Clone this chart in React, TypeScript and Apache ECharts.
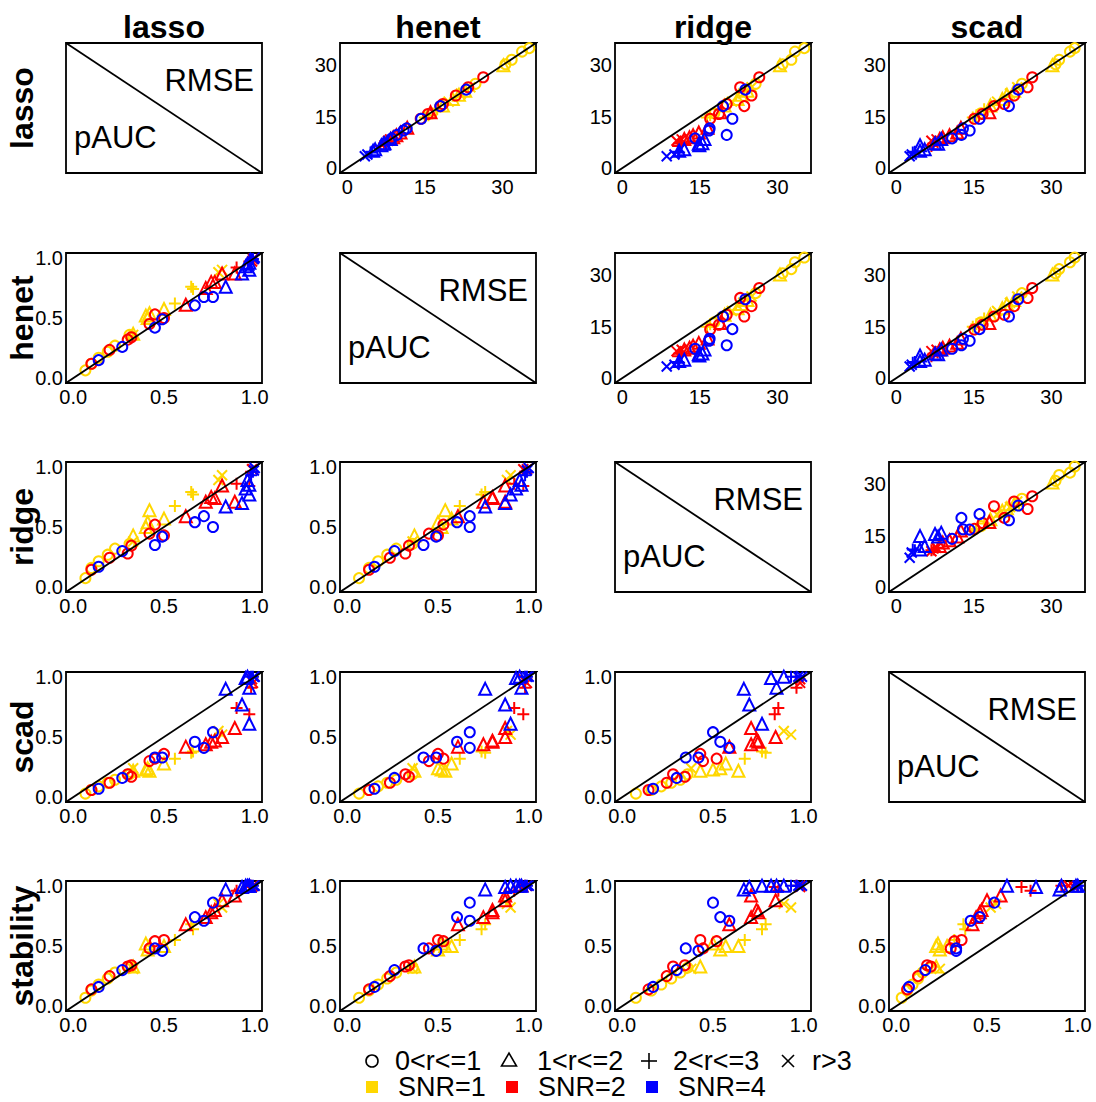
import React, { useEffect, useRef } from "react";
import * as echarts from "echarts";

// ---------- data ----------
const rowMethods = ["lasso", "henet", "ridge", "scad", "stability"];
const colMethods = ["lasso", "henet", "ridge", "scad"];
const shapeLabels = ["0<r<=1", "1<r<=2", "2<r<=3", "r>3"];
const snrLabels = ["SNR=1", "SNR=2", "SNR=4"];
const snrColors = ["#FFD700", "#FF0000", "#0000FF"];
const rmseTicks = [0, 15, 30];
const paucTicks = [0, 0.5, 1];

// scenario attributes: shape index (r class) and SNR index
const shape = [
  0, 0, 0, 0, 0, 0, 1, 1, 1, 1, 1, 2, 2, 2, 3, 3, 3,
  0, 0, 0, 0, 0, 0, 0, 1, 1, 1, 1, 1, 1, 2, 2, 2, 3, 3,
  0, 0, 0, 0, 0, 0, 0, 1, 1, 1, 1, 1, 1, 2, 2, 3, 3,
];
const snr = [
  0, 0, 0, 0, 0, 0, 0, 0, 0, 0, 0, 0, 0, 0, 0, 0, 0,
  1, 1, 1, 1, 1, 1, 1, 1, 1, 1, 1, 1, 1, 1, 1, 1, 1, 1,
  2, 2, 2, 2, 2, 2, 2, 2, 2, 2, 2, 2, 2, 2, 2, 2, 2,
];

// pAUC per method
const paucLasso = [
  0.067, 0.10, 0.14, 0.19, 0.23, 0.31, 0.33, 0.40, 0.41, 0.42, 0.50, 0.56, 0.65, 0.66, 0.80, 0.82, 0.33,
  0.10, 0.20, 0.30, 0.32, 0.42, 0.45, 0.50, 0.62, 0.73, 0.76, 0.78, 0.82, 0.89, 0.90, 0.97, 0.98, 0.99, 0.985,
  0.14, 0.27, 0.45, 0.49, 0.67, 0.72, 0.77, 0.84, 0.93, 0.97, 0.95, 0.97, 0.96, 0.98, 0.99, 0.995, 1.0,
];
const paucHenet = [
  0.065, 0.12, 0.17, 0.22, 0.27, 0.36, 0.37, 0.52, 0.50, 0.54, 0.575, 0.62, 0.76, 0.74, 0.88, 0.90, 0.36,
  0.12, 0.235, 0.32, 0.34, 0.45, 0.53, 0.50, 0.61, 0.75, 0.80, 0.80, 0.87, 0.87, 0.92, 0.97, 0.98, 0.99, 0.97,
  0.15, 0.26, 0.42, 0.49, 0.605, 0.675, 0.675, 0.76, 0.87, 0.90, 0.93, 0.96, 0.95, 0.98, 0.99, 0.99, 1.0,
];
const paucRidge = [
  0.075, 0.16, 0.215, 0.27, 0.32, 0.36, 0.43, 0.50, 0.54, 0.64, 0.57, 0.675, 0.79, 0.77, 0.89, 0.93, 0.38,
  0.145, 0.245, 0.28, 0.345, 0.445, 0.52, 0.43, 0.59, 0.71, 0.75, 0.74, 0.845, 0.71, 0.86, 0.84, 0.96, 0.98, 0.98,
  0.17, 0.30, 0.35, 0.42, 0.54, 0.59, 0.50, 0.67, 0.70, 0.77, 0.82, 0.85, 0.89, 0.93, 0.96, 0.97, 0.99,
];
const paucScad = [
  0.03, 0.06, 0.09, 0.12, 0.145, 0.19, 0.22, 0.23, 0.24, 0.22, 0.28, 0.32, 0.37, 0.38, 0.55, 0.52, 0.24,
  0.06, 0.12, 0.19, 0.17, 0.30, 0.32, 0.36, 0.42, 0.44, 0.46, 0.47, 0.50, 0.575, 0.74, 0.69, 0.91, 0.95, 0.98,
  0.07, 0.16, 0.33, 0.33, 0.46, 0.41, 0.54, 0.90, 0.77, 0.61, 0.99, 0.91, 1.0, 1.0, 1.0, 1.0, 1.0,
];
const paucStability = [
  0.07, 0.13, 0.18, 0.23, 0.28, 0.32, 0.33, 0.52, 0.47, 0.50, 0.50, 0.55, 0.68, 0.64, 0.85, 0.82, 0.31,
  0.14, 0.25, 0.33, 0.34, 0.48, 0.54, 0.55, 0.68, 0.74, 0.78, 0.80, 0.88, 0.92, 0.96, 0.99, 1.0, 1.0, 0.99,
  0.16, 0.30, 0.48, 0.46, 0.74, 0.71, 0.86, 0.97, 0.99, 1.0, 1.0, 1.0, 1.0, 1.0, 1.0, 1.0, 1.0,
];

// RMSE per method
const rmseLasso = [
  35.0, 34.0, 31.6, 30.3, 24.6, 16.0, 30.0, 22.6, 21.4, 20.2, 18.3, 17.2, 15.4, 14.8, 19.4, 23.6, 21.8,
  26.5, 23.6, 21.2, 18.7, 18.1, 15.8, 14.4, 16.3, 11.8, 10.4, 9.6, 9.0, 8.5, 7.6, 7.2, 6.5, 8.0, 8.4,
  22.9, 18.1, 14.4, 11.0, 9.7, 11.6, 8.7, 8.5, 7.3, 7.1, 6.7, 5.5, 5.1, 4.6, 4.8, 4.0, 3.5,
];
const rmseHenet = [
  35.2, 33.8, 31.8, 30.6, 24.8, 16.3, 30.2, 22.8, 21.6, 20.4, 18.5, 17.4, 15.7, 15.0, 19.6, 23.8, 22.0,
  26.3, 23.4, 21.0, 18.5, 18.0, 15.6, 14.2, 16.1, 11.6, 10.3, 9.5, 8.9, 8.4, 7.5, 7.1, 6.4, 7.9, 8.3,
  23.0, 18.0, 14.3, 10.9, 9.6, 11.5, 8.6, 8.4, 7.2, 7.0, 6.6, 5.4, 5.0, 4.5, 4.7, 3.9, 3.4,
];
const rmseRidge = [
  35.2, 33.4, 32.7, 31.0, 25.8, 17.8, 30.5, 24.2, 23.0, 22.3, 19.8, 18.6, 17.0, 16.4, 21.2, 25.0, 23.4,
  26.5, 22.8, 25.0, 20.2, 23.6, 18.7, 17.0, 19.0, 16.5, 14.8, 13.7, 13.0, 12.0, 11.5, 11.0, 10.8, 10.5, 11.5,
  23.8, 19.5, 21.3, 16.8, 20.2, 16.9, 14.1, 15.9, 15.5, 14.8, 14.9, 12.0, 11.0, 11.0, 10.8, 10.1, 8.6,
];
const rmseScad = [
  34.5, 33.6, 31.5, 30.8, 24.3, 16.4, 30.2, 22.8, 21.4, 20.5, 18.2, 17.0, 15.5, 14.8, 19.5, 23.4, 22.0,
  26.3, 25.4, 22.8, 20.9, 18.9, 16.7, 15.1, 18.0, 12.5, 11.8, 10.3, 9.0, 8.4, 8.0, 7.2, 6.8, 6.8, 7.8,
  23.6, 21.8, 16.1, 14.2, 12.6, 12.9, 10.8, 8.7, 7.5, 8.1, 4.6, 5.5, 4.6, 3.2, 3.6, 3.0, 2.6,
];

// ---------- layout ----------
const COL_X = [66, 340, 615, 889];
const ROW_Y = [43, 253, 462, 672, 881];
const PW = 196;
const PH = 130;
const FONT = "Liberation Sans, Arial, Helvetica, sans-serif";

const SYMBOLS = [
  "circle",
  "triangle",
  "path://M0,5L10,5M5,0L5,10",
  "path://M0,0L10,10M10,0L0,10",
];
const SYM_SIZE = [10, 12, 12, 10];

function buildOption() {
  const paucBy = [paucLasso, paucHenet, paucRidge, paucScad, paucStability];
  const rmseBy = [rmseLasso, rmseHenet, rmseRidge, rmseScad];
  const grids: any[] = [];
  const xAxes: any[] = [];
  const yAxes: any[] = [];
  const series: any[] = [];
  const graphics: any[] = [];

  rowMethods.forEach((_, i) => {
    colMethods.forEach((__, j) => {
      const left = COL_X[j];
      const top = ROW_Y[i];
      if (i === j) {
        graphics.push({
          type: "rect",
          shape: { x: left, y: top, width: PW, height: PH },
          style: { fill: "none", stroke: "#000", lineWidth: 1.8 },
        });
        graphics.push({
          type: "line",
          shape: { x1: left, y1: top, x2: left + PW, y2: top + PH },
          style: { stroke: "#000", lineWidth: 1.8 },
        });
        graphics.push({
          type: "text",
          x: left + PW - 8,
          y: top + 37,
          style: { text: "RMSE", fontSize: 31, fontFamily: FONT, fill: "#000", align: "right", verticalAlign: "middle" },
        });
        graphics.push({
          type: "text",
          x: left + 8,
          y: top + PH - 36,
          style: { text: "pAUC", fontSize: 31, fontFamily: FONT, fill: "#000", align: "left", verticalAlign: "middle" },
        });
        return;
      }
      const isRmse = i < j;
      const xs = isRmse ? rmseBy[j] : paucBy[j];
      const ys = isRmse ? rmseBy[i] : paucBy[i];
      const lo = isRmse ? -1.4 : -0.04;
      const hi = isRmse ? 36.5 : 1.04;
      const k = grids.length;
      grids.push({
        left, top, width: PW, height: PH,
        show: true, borderColor: "#000", borderWidth: 1.8, backgroundColor: "rgba(0,0,0,0)",
        containLabel: false, outerBoundsMode: "none",
      });
      const fmt = isRmse ? (v: number) => String(v) : (v: number) => v.toFixed(1);
      const common = {
        type: "value", gridIndex: k, min: lo, max: hi,
        axisLine: { show: false }, axisTick: { show: false }, splitLine: { show: false },
      };
      xAxes.push({
        ...common,
        axisLabel: { customValues: isRmse ? rmseTicks : paucTicks, formatter: fmt, fontSize: 20, color: "#000", fontFamily: FONT, margin: 4 },
      });
      yAxes.push({
        ...common,
        axisLabel: { customValues: isRmse ? rmseTicks : paucTicks, formatter: fmt, fontSize: 20, color: "#000", fontFamily: FONT, margin: 3 },
      });
      series.push({
        type: "scatter", xAxisIndex: k, yAxisIndex: k, silent: true,
        itemStyle: { opacity: 1 },
        data: xs.map((x, n) => ({
          value: [x, ys[n]],
          symbol: SYMBOLS[shape[n]],
          symbolSize: SYM_SIZE[shape[n]],
          itemStyle: { color: "rgba(0,0,0,0)", borderColor: snrColors[snr[n]], borderWidth: 2, opacity: 1 },
        })),
      });
      series.push({
        type: "line", xAxisIndex: k, yAxisIndex: k, silent: true, clip: true, z: 5,
        symbol: "none", data: [[lo - 1, lo - 1], [hi + 1, hi + 1]],
        lineStyle: { color: "#000", width: 1.8 },
      });
    });
  });

  // column titles
  colMethods.forEach((m, j) => {
    graphics.push({
      type: "text", x: COL_X[j] + PW / 2, y: 27,
      style: { text: m, fontSize: 32, fontWeight: "bold", fontFamily: FONT, fill: "#000", align: "center", verticalAlign: "middle" },
    });
  });
  // row titles
  rowMethods.forEach((m, i) => {
    graphics.push({
      type: "text", x: 22, y: ROW_Y[i] + PH / 2, rotation: Math.PI / 2, z: 10,
      style: { text: m, fontSize: 32, fontWeight: "bold", fontFamily: FONT, fill: "#000", align: "center", verticalAlign: "middle" },
    });
  });

  // legend row 1 (shapes)
  const l1y = 1061;
  const shapeX = [372, 509, 649, 788];
  const shapeTextX = [395, 537, 673, 812];
  graphics.push({ type: "circle", shape: { cx: shapeX[0], cy: l1y, r: 6 }, style: { fill: "none", stroke: "#000", lineWidth: 1.6 } });
  graphics.push({
    type: "polygon",
    shape: { points: [[shapeX[1] - 7.5, l1y + 5], [shapeX[1] + 7.5, l1y + 5], [shapeX[1], l1y - 8]] },
    style: { fill: "none", stroke: "#000", lineWidth: 1.6 },
  });
  graphics.push({ type: "line", shape: { x1: shapeX[2] - 8, y1: l1y, x2: shapeX[2] + 8, y2: l1y }, style: { stroke: "#000", lineWidth: 1.6 } });
  graphics.push({ type: "line", shape: { x1: shapeX[2], y1: l1y - 8, x2: shapeX[2], y2: l1y + 8 }, style: { stroke: "#000", lineWidth: 1.6 } });
  graphics.push({ type: "line", shape: { x1: shapeX[3] - 6, y1: l1y - 6, x2: shapeX[3] + 6, y2: l1y + 6 }, style: { stroke: "#000", lineWidth: 1.6 } });
  graphics.push({ type: "line", shape: { x1: shapeX[3] + 6, y1: l1y - 6, x2: shapeX[3] - 6, y2: l1y + 6 }, style: { stroke: "#000", lineWidth: 1.6 } });
  shapeLabels.forEach((t, s) => {
    graphics.push({
      type: "text", x: shapeTextX[s], y: l1y,
      style: { text: t, fontSize: 27, lineHeight: 26, fontFamily: FONT, fill: "#000", align: "left", verticalAlign: "middle" },
    });
  });
  // legend row 2 (SNR colours)
  const l2y = 1087;
  const sqX = [372, 512, 652];
  const sqTextX = [398, 538, 678];
  snrLabels.forEach((t, c) => {
    graphics.push({ type: "rect", shape: { x: sqX[c] - 6, y: l2y - 6, width: 12, height: 12 }, style: { fill: snrColors[c] } });
    graphics.push({
      type: "text", x: sqTextX[c], y: l2y,
      style: { text: t, fontSize: 27, lineHeight: 26, fontFamily: FONT, fill: "#000", align: "left", verticalAlign: "middle" },
    });
  });

  return {
    animation: false,
    backgroundColor: "#fff",
    textStyle: { fontFamily: FONT },
    grid: grids,
    xAxis: xAxes,
    yAxis: yAxes,
    series,
    graphic: { elements: graphics },
  };
}

export default function App() {
  const ref = useRef<HTMLDivElement>(null);
  useEffect(() => {
    if (!ref.current) return;
    const chart = echarts.init(ref.current, undefined, { renderer: "svg" });
    chart.setOption(buildOption() as any);
    return () => chart.dispose();
  }, []);
  return (
    <div
      ref={ref}
      style={{ position: "absolute", left: 0, top: 0, width: 1096, height: 1102, background: "#fff" }}
    />
  );
}
